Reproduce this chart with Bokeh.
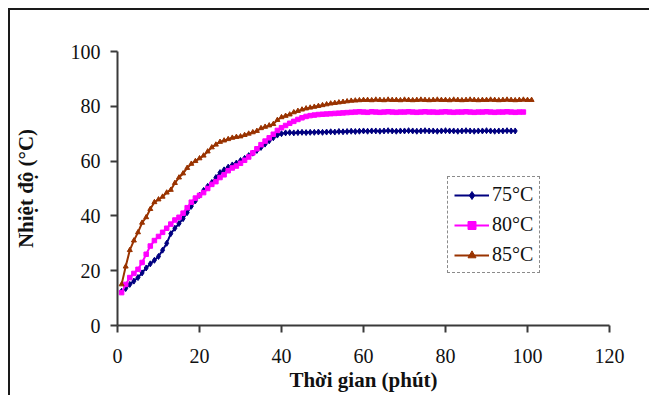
from bokeh.plotting import figure
from bokeh.models import Range1d, FixedTicker, Legend, LegendItem
from bokeh.embed import file_html
from bokeh.resources import INLINE

# ---- data ----
x_ticks = [0, 20, 40, 60, 80, 100, 120]
y_ticks = [0, 20, 40, 60, 80, 100]

series_names = ["75°C", "80°C", "85°C"]

temp_75 = [12.5, 13.5, 15.0, 16.2, 17.5, 19.2, 21.0, 22.5, 23.8, 25.2,
           27.5, 30.0, 33.5, 35.5, 37.2, 39.0, 41.2, 43.5, 45.5, 47.5,
           49.3, 50.8, 52.2, 54.0, 55.8, 56.8, 57.8, 58.6, 59.3, 60.2,
           61.0, 62.0, 62.9, 63.9, 65.0, 66.2, 67.4, 68.5, 69.5, 70.0,
           70.3, 70.4, 70.3, 70.4, 70.5, 70.4, 70.5, 70.5, 70.6, 70.5,
           70.6, 70.7, 70.6, 70.8, 70.7, 70.8, 70.9, 70.8, 70.9, 71.0,
           70.9, 71.0, 71.0, 70.9, 71.0, 71.1, 71.0, 70.9, 71.0, 71.0,
           71.1, 71.0, 70.9, 71.0, 71.1, 71.0, 71.0, 70.9, 71.0, 71.1,
           71.0, 71.0, 70.9, 71.0, 71.1, 71.0, 70.9, 71.0, 71.0, 71.1,
           71.0, 70.9, 71.0, 71.0, 71.1, 71.0, 71.0]

temp_80 = [12.0, 15.0, 17.5, 19.0, 20.5, 23.0, 26.0, 29.0, 31.0, 32.5,
           34.0, 35.5, 37.0, 38.5, 39.5, 41.0, 43.0, 45.0, 46.5, 47.5,
           48.5, 50.0, 51.5, 52.5, 54.0, 55.0, 56.5, 57.5, 58.2, 59.2,
           60.3, 61.5, 63.0, 64.5, 66.0, 67.3, 68.5, 69.8, 71.2, 72.2,
           73.0, 73.8, 74.5, 75.2, 75.8, 76.3, 76.6, 76.8, 77.0, 77.1,
           77.2, 77.3, 77.4, 77.5, 77.6, 77.7, 77.8, 77.9, 78.0, 77.9,
           77.8, 78.0, 77.9, 77.8, 77.9, 78.0, 77.9, 77.8, 77.9, 77.9,
           78.0, 77.9, 77.8, 77.9, 78.0, 77.9, 77.9, 77.8, 77.9, 78.0,
           77.9, 77.8, 77.9, 77.9, 78.0, 77.9, 77.8, 77.9, 77.9, 78.0,
           77.9, 77.8, 77.9, 77.9, 78.0, 77.9, 77.8, 77.9, 77.9]

temp_85 = [15.0, 21.5, 27.5, 31.0, 34.0, 37.5, 39.5, 42.5, 45.0, 46.0,
           47.0, 48.5, 49.5, 52.0, 54.0, 55.5, 57.5, 59.0, 60.0, 61.0,
           62.0, 63.5, 65.0, 66.0, 67.0, 67.5, 68.0, 68.5, 68.8, 69.0,
           69.5, 70.0, 70.5, 71.0, 72.0, 72.5, 73.0, 73.5, 75.0, 76.0,
           76.5, 77.0, 77.8, 78.3, 78.8, 79.2, 79.5, 79.8, 80.1, 80.4,
           80.7, 81.0, 81.2, 81.4, 81.6, 81.8, 82.0, 82.1, 82.2, 82.3,
           82.3, 82.2, 82.4, 82.3, 82.2, 82.4, 82.3, 82.3, 82.2, 82.4,
           82.3, 82.2, 82.3, 82.4, 82.3, 82.2, 82.3, 82.4, 82.3, 82.3,
           82.2, 82.4, 82.3, 82.2, 82.3, 82.4, 82.3, 82.2, 82.3, 82.3,
           82.4, 82.3, 82.2, 82.3, 82.4, 82.3, 82.2, 82.3, 82.4, 82.3, 82.3]

time_75 = list(range(1, len(temp_75) + 1))
time_80 = list(range(1, len(temp_80) + 1))
time_85 = list(range(1, len(temp_85) + 1))

# ---- figure ----
p = figure(frame_width=492, frame_height=274, output_backend="svg", toolbar_location=None,
           x_range=Range1d(0, 120), y_range=Range1d(0, 100),
           min_border_left=107, min_border_right=42,
           min_border_top=41, min_border_bottom=72)
p.margin = (10, 0, 0, 10)
p.styles = {"box-shadow": "-2px -2px 0 0 #1a1a1a"}
p.background_fill_color = "white"
p.border_fill_color = "white"
p.outline_line_color = None
p.grid.visible = False

serif = "Liberation Serif"
for ax in (p.xaxis[0], p.yaxis[0]):
    ax.axis_line_color = "#3a3a3a"
    ax.axis_line_width = 2
    ax.major_tick_line_color = "#3a3a3a"
    ax.major_tick_line_width = 2
    ax.major_tick_in = 0
    ax.major_tick_out = 7
    ax.minor_tick_line_color = None
    ax.major_label_text_font = serif
    ax.major_label_text_font_size = "20px"
    ax.major_label_text_color = "#111111"
    ax.axis_label_text_font = serif
    ax.axis_label_text_font_style = "bold"
    ax.axis_label_text_font_size = "21px"
    ax.axis_label_text_color = "#111111"

p.xaxis[0].ticker = FixedTicker(ticks=x_ticks)
p.yaxis[0].ticker = FixedTicker(ticks=y_ticks)
p.xaxis[0].major_label_standoff = 16
p.yaxis[0].major_label_standoff = 10
p.xaxis[0].axis_label = "Thời gian (phút)"
p.yaxis[0].axis_label = "Nhiệt độ (°C)"
p.xaxis[0].axis_label_standoff = 2
p.yaxis[0].axis_label_standoff = 30

colors = ["#000080", "#FF00FF", "#993300"]
markers = ["diamond", "square", "triangle"]
sizes = [6, 4.5, 5]
data = [(time_75, temp_75), (time_80, temp_80), (time_85, temp_85)]

items = []
for name, (t, v), c, m, s in zip(series_names, data, colors, markers, sizes):
    ln = p.line(t, v, line_color=c, line_width=2)
    sc = p.scatter(t, v, marker=m, size=s, fill_color=c, line_color=c)
    items.append(LegendItem(label=name, renderers=[ln, sc]))

legend = Legend(items=items, location=(330, 52))
legend.border_line_color = "#1a1a1a"
legend.border_line_dash = "4 3"
legend.border_line_width = 1.5
legend.background_fill_color = "white"
legend.background_fill_alpha = 1
legend.label_text_font = serif
legend.label_text_font_size = "20px"
legend.label_text_color = "#111111"
legend.glyph_width = 35
legend.glyph_height = 20
legend.label_height = 20
legend.spacing = 7
legend.padding = 6
legend.margin = 0
legend.label_standoff = 3
p.add_layout(legend)

open("out.html", "w").write(file_html(p, INLINE))
